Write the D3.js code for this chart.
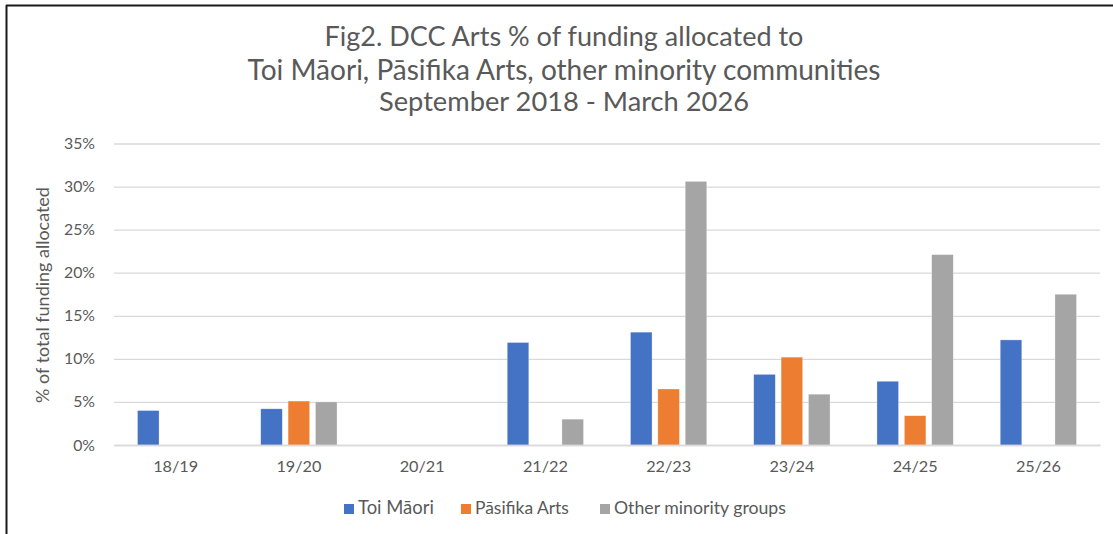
<!DOCTYPE html>
<html>
<head>
<meta charset="utf-8">
<script src="https://cdn.jsdelivr.net/npm/d3@7"></script>
<style>
  html, body { margin: 0; padding: 0; background: #ffffff; }
  svg { display: block; }
  text { font-family: Lato, "Open Sans", sans-serif; }
</style>
</head>
<body>
<svg id="chart" width="1113" height="534"></svg>
<script>
const categories = ["18/19", "19/20", "20/21", "21/22", "22/23", "23/24", "24/25", "25/26"];
const seriesNames = ["Toi Māori", "Pāsifika Arts", "Other minority groups"];
const toiMaori = [4.0, 4.2, null, 11.9, 13.1, 8.2, 7.4, 12.2];
const pasifika = [null, 5.1, null, null, 6.5, 10.2, 3.4, null];
const otherGroups = [null, 5.0, null, 3.0, 30.6, 5.9, 22.1, 17.5];
const yTicks = [0, 5, 10, 15, 20, 25, 30, 35];
const titleLines = [
  "Fig2. DCC Arts % of funding allocated to",
  "Toi Māori, Pāsifika Arts, other minority communities",
  "September 2018 - March 2026"
];
const yAxisTitle = "% of total funding allocated";
const colors = ["#4472c4", "#ed7d31", "#a5a5a5"];

const series = [toiMaori, pasifika, otherGroups];
const svg = d3.select("#chart");
const textColor = "#595959";

// frame lines (top and left)
svg.append("line").attr("x1", 6).attr("x2", 1113).attr("y1", 5.5).attr("y2", 5.5)
  .attr("stroke", "#1a1a1a").attr("stroke-width", 2);
svg.append("line").attr("x1", 6.5).attr("x2", 6.5).attr("y1", 5).attr("y2", 534)
  .attr("stroke", "#1a1a1a").attr("stroke-width", 2);

function fitWidth(sel, target) {
  const node = sel.node();
  const fs = parseFloat(sel.attr("font-size"));
  const w = node.getComputedTextLength();
  if (w > 0) sel.attr("font-size", (fs * target / w).toFixed(2));
}
function fitGroup(sel, refText, target) {
  let ref = null;
  sel.each(function () { if (this.textContent === refText) ref = this; });
  if (!ref) return;
  const fs = parseFloat(d3.select(ref).attr("font-size"));
  const w = ref.getComputedTextLength();
  if (w > 0) sel.attr("font-size", (fs * target / w).toFixed(2));
}

// title
const titleWidths = [479, 633, 370];
const titleY = [46, 80, 111];
titleLines.forEach((t, i) => {
  const s = svg.append("text").attr("x", 564).attr("y", titleY[i])
    .attr("text-anchor", "middle").attr("font-size", 23).attr("fill", textColor).text(t);
  fitWidth(s, titleWidths[i]);
});

const x = d3.scaleBand().domain(categories).range([114, 1100]);
const y = d3.scaleLinear().domain([0, 35]).range([445, 143.5]);

const barW = x.bandwidth() * 0.175;
const step = x.bandwidth() * 0.222;

// gridlines
const grid = svg.append("g").attr("transform", "translate(114,0)")
  .call(d3.axisLeft(y).tickValues(yTicks).tickSize(-(1100 - 114)).tickFormat(""));
grid.select(".domain").remove();
grid.selectAll(".tick line").attr("stroke", "#d9d9d9").attr("stroke-width", 1.3);

// y tick labels
const yAxis = svg.append("g").attr("transform", "translate(114,0)")
  .call(d3.axisLeft(y).tickValues(yTicks).tickSize(0).tickPadding(19).tickFormat(d => d + "%"));
yAxis.select(".domain").remove();
const yLabels = yAxis.selectAll("text").attr("font-size", 14).attr("fill", textColor)
  .attr("font-family", "Lato, 'Open Sans', sans-serif");
fitGroup(yLabels, "35%", 31);

// bars
series.forEach((vals, si) => {
  svg.append("g").selectAll("rect")
    .data(categories.map((c, i) => ({ c, v: vals[i] })).filter(d => d.v != null))
    .join("rect")
    .attr("x", d => x(d.c) + x.bandwidth() / 2 + (si - 1) * step - barW / 2)
    .attr("y", d => y(d.v))
    .attr("width", barW)
    .attr("height", d => y(0) - y(d.v))
    .attr("fill", colors[si])
    .attr("stroke", "#ffffff").attr("stroke-opacity", 0.5).attr("stroke-width", 0.6);
});

// x axis
const xAxis = svg.append("g").attr("transform", "translate(0,445)")
  .call(d3.axisBottom(x).tickSize(0).tickPadding(15));
xAxis.select(".domain").attr("stroke", "#d9d9d9").attr("stroke-width", 1.3);
const xLabels = xAxis.selectAll("text").attr("font-size", 14).attr("fill", textColor)
  .attr("font-family", "Lato, 'Open Sans', sans-serif");
fitGroup(xLabels, "18/19", 45);

// y axis title
const yt = svg.append("text")
  .attr("transform", "translate(49,295) rotate(-90)")
  .attr("text-anchor", "middle").attr("font-size", 15).attr("fill", textColor).text(yAxisTitle);
fitWidth(yt, 216);

// legend
const legendX = [344, 461, 600];
const legendTextW = [76, 94, 172];
seriesNames.forEach((n, i) => {
  const g = svg.append("g");
  g.append("rect").attr("x", legendX[i]).attr("y", 504).attr("width", 10).attr("height", 10)
    .attr("fill", colors[i]);
  const t = g.append("text").attr("x", legendX[i] + 14).attr("y", 514)
    .attr("font-size", 14).attr("fill", textColor).text(n);
  fitWidth(t, legendTextW[i]);
});
</script>
</body>
</html>
